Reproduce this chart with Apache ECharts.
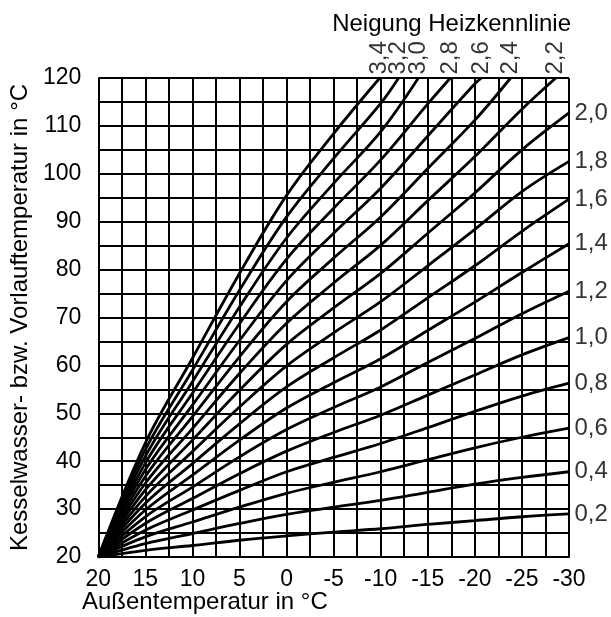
<!DOCTYPE html>
<html><head><meta charset="utf-8">
<script src="https://cdn.jsdelivr.net/npm/echarts@6/dist/echarts.min.js"></script>
<style>html,body{margin:0;padding:0;background:#fff}#c{width:611px;height:617px}</style>
</head><body><div id="c"></div>
<script>
// Outdoor temperature sample points (°C)
const outdoorTemps = [20, 15, 10, 5, 0, -5, -10, -15, -20, -25, -30];
// Flow temperature per heating-curve slope
const curve02 = [20, 21.4, 22.4, 23.5, 24.4, 25.2, 25.9, 26.8, 27.6, 28.4, 29.0];
const curve04 = [20, 22.8, 24.9, 27.0, 28.9, 30.4, 31.8, 33.5, 35.2, 36.6, 37.8];
const curve06 = [20, 24.2, 27.3, 30.4, 33.3, 35.6, 37.8, 40.3, 42.8, 45.0, 46.9];
const curve08 = [20, 25.6, 29.8, 33.9, 37.8, 40.8, 43.7, 47.0, 50.4, 53.6, 56.3];
const curve10 = [20, 27.0, 32.2, 37.4, 42.1, 46.0, 49.6, 53.8, 58.0, 62.2, 65.8];
const curve12 = [20, 28.4, 34.6, 40.9, 46.6, 51.2, 55.5, 60.6, 65.6, 70.8, 75.5];
const curve14 = [20, 29.8, 37.1, 44.4, 51.1, 56.4, 61.4, 67.3, 73.2, 79.4, 85.4];
const curve16 = [20, 31.2, 39.5, 47.8, 55.5, 61.6, 67.4, 74.1, 80.8, 88.0, 94.7];
const curve18 = [20, 32.6, 42.0, 51.3, 59.9, 66.8, 73.3, 80.8, 88.4, 96.3, 102.6];
const curve20 = [20, 34.0, 44.4, 54.8, 64.4, 72.0, 79.2, 87.6, 96.0, 105.0, 112.7];
const curve22 = [20, 35.4, 46.8, 58.3, 68.8, 77.2, 85.1, 94.4, 103.6, 113.5];
const curve24 = [20, 36.8, 49.3, 61.8, 73.3, 82.4, 91.0, 101.1, 111.2];
const curve26 = [20, 38.2, 51.7, 65.2, 77.7, 87.6, 97.0, 107.9, 118.8];
const curve28 = [20, 39.6, 54.2, 68.7, 82.2, 92.8, 102.9, 114.6];
const curve30 = [20, 41.0, 56.6, 72.2, 86.6, 98.0, 108.8];
const curve32 = [20, 42.4, 59.0, 75.7, 91.0, 103.2, 114.7];
const curve34 = [20, 43.8, 61.5, 79.2, 95.5, 108.4];

// Slopes ending at the right edge
const rightSlopes = ['0,2', '0,4', '0,6', '0,8', '1,0', '1,2', '1,4', '1,6', '1,8', '2,0'];
const rightCurves = [curve02, curve04, curve06, curve08, curve10, curve12, curve14, curve16, curve18, curve20];
// Slopes leaving through the top edge, and the outdoor temp where they hit 120 °C
const topSlopes = ['2,2', '2,4', '2,6', '2,8', '3,0', '3,2', '3,4'];
const topCurves = [curve22, curve24, curve26, curve28, curve30, curve32, curve34];
const topExitTemp = [-28.6, -23.8, -20.7, -17.4, -14.0, -11.9, -9.9];

const xTickStep = 2.5, yTickStep = 5;
const xMin = -30, xMax = 20, yMin = 20, yMax = 120;

const FONT = 'Liberation Sans, Arial, sans-serif';
const series = [];
const rightLabelData = [];
const topLabelData = [];

rightCurves.forEach((vals, k) => {
  const data = vals.map((v, i) => [outdoorTemps[i], v]);
  series.push({ type: 'line', name: rightSlopes[k], data, showSymbol: false, smooth: 0.35,
    lineStyle: { color: '#000', width: 2.8 }, silent: true, z: 3 });
  const last = data[data.length - 1];
  rightLabelData.push({ value: last, name: rightSlopes[k] });
});
topCurves.forEach((vals, k) => {
  const data = vals.map((v, i) => [outdoorTemps[i], v]);
  data.push([topExitTemp[k], yMax]);
  series.push({ type: 'line', name: topSlopes[k], data, showSymbol: false, smooth: 0.35,
    lineStyle: { color: '#000', width: 2.8 }, silent: true, z: 3 });
  topLabelData.push({ value: [topExitTemp[k], yMax], name: topSlopes[k] });
});

series.push({
  type: 'scatter', data: rightLabelData, symbolSize: 1, itemStyle: { color: 'rgba(0,0,0,0)' }, silent: true,
  label: { show: true, position: 'right', distance: 5, formatter: p => p.name, color: '#000', fontSize: 24, fontFamily: FONT }
});
series.push({
  type: 'scatter', data: topLabelData, symbolSize: 1, itemStyle: { color: 'rgba(0,0,0,0)' }, silent: true,
  label: { show: true, position: 'top', distance: 3, rotate: 90, align: 'left', verticalAlign: 'middle',
    formatter: p => p.name, color: '#000', fontSize: 24, fontFamily: FONT }
});

const chart = echarts.init(document.getElementById('c'), null, { renderer: 'canvas' });
chart.setOption({
  animation: false,
  backgroundColor: '#fff',
  grid: { left: 91, top: 78, width: 478, height: 479, containLabel: false },
  xAxis: {
    type: 'value', min: xMin, max: xMax, interval: xTickStep, inverse: true,
    axisLine: { show: true, lineStyle: { color: '#000', width: 2 } },
    axisTick: { show: false },
    splitLine: { show: true, lineStyle: { color: '#000', width: 2 } },
    axisLabel: { margin: 11, color: '#000', fontSize: 23, fontFamily: FONT,
      formatter: v => (Math.abs(v % 5) < 1e-9 ? String(v) : '') }
  },
  yAxis: {
    type: 'value', min: yMin, max: yMax, interval: yTickStep,
    name: 'Kesselwasser- bzw. Vorlauftemperatur in °C', nameLocation: 'middle', nameGap: 56, nameRotate: 90,
    nameTextStyle: { color: '#000', fontSize: 24, fontFamily: FONT },
    axisLine: { show: true, lineStyle: { color: '#000', width: 2 } },
    axisTick: { show: false },
    splitLine: { show: true, lineStyle: { color: '#000', width: 2 } },
    axisLabel: { margin: 17, color: '#000', fontSize: 23, fontFamily: FONT,
      formatter: v => (Math.abs(v % 10) < 1e-9 ? String(v) : '') }
  },
  graphic: [
    { type: 'text', left: 82, top: 590, style: { text: 'Außentemperatur in °C', fill: '#000', font: '24px ' + FONT } },
    { type: 'text', right: 40, top: 12, style: { text: 'Neigung Heizkennlinie', fill: '#000', font: '24px ' + FONT } }
  ],
  series
});
</script></body></html>
